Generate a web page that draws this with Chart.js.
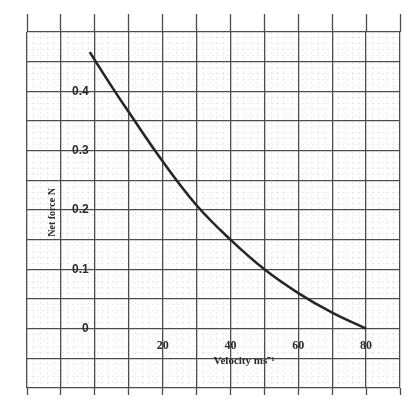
<!DOCTYPE html>
<html>
<head>
<meta charset="utf-8">
<script src="https://cdn.jsdelivr.net/npm/chart.js@4.4.0/dist/chart.umd.min.js"></script>
<style>
html,body{margin:0;padding:0;background:#fff}
#wrap{width:418px;height:412px}
</style>
</head>
<body>
<div id="wrap"><canvas id="c" width="418" height="412"></canvas></div>
<script>
// values
const velocity = [-1.5, 5, 10, 20, 30, 40, 50, 60, 70, 80]
const netForce = [0.466, 0.408, 0.365, 0.282, 0.208, 0.150, 0.100, 0.060, 0.027, 0]
const xTickLabels = [20, 40, 60, 80]
const yTickLabels = [0, 0.1, 0.2, 0.3, 0.4]
const xTitle = "Velocity ms\u207B\u00B9"
const yTitle = "Net force N"

const major = "#4d4d4d"
const minor = "rgba(110,110,110,0.14)"

// graph paper lines: small squares every 2 ms-1 and 0.01 N
function paperTicks(from, to, step){
    let out = []
    let n = Math.round((to - from) / step)
    for (let i = 0; i <= n; i++){ out.push({value: +(from + i*step).toFixed(4)}) }
    return out
}
function isMajorX(v){ return Math.abs(v % 10) < 1e-6 }
function isMajorY(v){ return Math.abs(v*20 - Math.round(v*20)) < 1e-6 }

const points = velocity.map((v,i) => ({x: v, y: netForce[i]}))

const axisTitles = {
    id: "axisTitles",
    afterDraw(chart){
        const {ctx, scales: {x, y}} = chart
        ctx.save()
        ctx.fillStyle = "#2b2b2b"
        ctx.font = "bold 11px 'Liberation Serif'"
        ctx.textAlign = "center"
        ctx.textBaseline = "middle"
        ctx.fillText(xTitle, x.getPixelForValue(44), y.getPixelForValue(-0.054))
        ctx.translate(x.getPixelForValue(-12.6), y.getPixelForValue(0.196))
        ctx.rotate(-Math.PI/2)
        ctx.font = "bold 10px 'Liberation Serif'"
        ctx.fillText(yTitle, 0, 0)
        ctx.restore()
    }
}

const edgeTicks = (len, pos) => ({
    type: "linear", position: pos, min: -20, max: 90,
    afterBuildTicks: s => { s.ticks = paperTicks(-20, 90, 10) },
    grid: {drawOnChartArea: false, drawTicks: true, tickLength: len, tickColor: major, tickWidth: 1.3},
    border: {display: false},
    ticks: {display: false}
})

const chart = new Chart(document.getElementById("c").getContext("2d"), {
    type: "line",
    data: {
        datasets: [{
            data: points,
            xAxisID: "x", yAxisID: "y",
            borderColor: "#262626",
            borderWidth: 2.6,
            pointRadius: 0,
            tension: 0.4,
            fill: false
        }]
    },
    options: {
        responsive: false,
        animation: false,
        layout: {padding: {left: 27, right: 18, top: 14, bottom: 17}},
        plugins: {legend: {display: false}, tooltip: {enabled: false}},
        scales: {
            x: {
                type: "linear", position: {y: 0}, min: -20, max: 90,
                afterBuildTicks: s => { s.ticks = paperTicks(-20, 90, 2) },
                grid: {
                    drawTicks: false,
                    color: c => isMajorX(c.tick.value) ? major : minor,
                    lineWidth: c => isMajorX(c.tick.value) ? 1.3 : 1
                },
                border: {display: false, dash: c => isMajorX(c.tick.value) ? [] : [2, 3]},
                ticks: {
                    autoSkip: false, maxRotation: 0, padding: 10, color: "#2b2b2b",
                    font: {family: "'Liberation Serif'", weight: "bold", size: 12},
                    callback: v => xTickLabels.includes(v) ? String(v) : ""
                }
            },
            xt: edgeTicks(18, "top"),
            xb: edgeTicks(7, "bottom"),
            y: {
                // labels sit just left of the zero line
                type: "linear", position: {x: -1.8}, min: -0.1, max: 0.5,
                afterBuildTicks: s => { s.ticks = paperTicks(-0.1, 0.5, 0.01) },
                grid: {
                    drawTicks: false,
                    color: c => isMajorY(c.tick.value) ? major : minor,
                    lineWidth: c => isMajorY(c.tick.value) ? 1.3 : 1
                },
                border: {display: false, dash: c => isMajorY(c.tick.value) ? [] : [2, 3]},
                ticks: {
                    autoSkip: false, padding: 8, color: "#2b2b2b",
                    font: {family: "'Liberation Sans'", weight: "bold", size: 12},
                    callback: v => {
                        let k = yTickLabels.find(t => Math.abs(t - v) < 1e-9)
                        return k === undefined ? "" : String(k)
                    }
                }
            }
        }
    },
    plugins: [axisTitles]
})
</script>
</body>
</html>
